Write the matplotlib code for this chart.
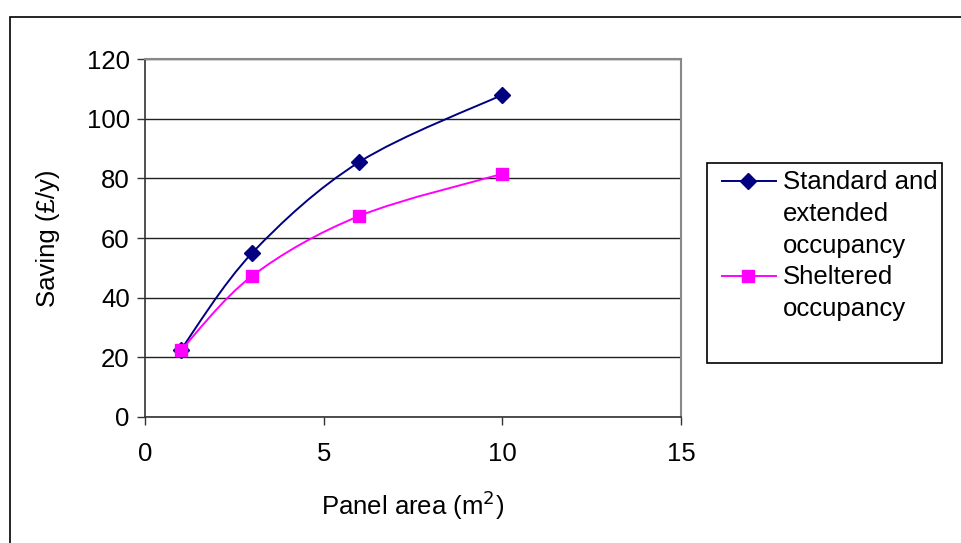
import matplotlib
matplotlib.use("Agg")
import matplotlib.pyplot as plt
from matplotlib.path import Path
from matplotlib.patches import PathPatch, Rectangle
from matplotlib.lines import Line2D

plt.rcParams["font.family"] = ["Liberation Sans", "DejaVu Sans"]

# ── Data ──────────────────────────────────────────────────────────────────────
panel_area = [1, 3, 6, 10]
standard_saving = [22.5, 55, 85.5, 108]
sheltered_saving = [22.3, 47.3, 67.4, 81.5]
series_labels = ["Standard and\nextended\noccupancy", "Sheltered\noccupancy"]
x_ticks = [0, 5, 10, 15]
y_ticks = [0, 20, 40, 60, 80, 100, 120]

NAVY = "#000080"
MAGENTA = "#FF00FF"
FS = 18.5


def smooth_path(xs, ys):
    """Excel-style smoothed line as cubic Bezier segments through the points."""
    pts = list(zip(xs, ys))
    verts = [pts[0]]
    codes = [Path.MOVETO]
    n = len(pts)
    for i in range(n - 1):
        p0 = pts[max(i - 1, 0)]
        p1 = pts[i]
        p2 = pts[i + 1]
        p3 = pts[min(i + 2, n - 1)]
        c1 = (p1[0] + (p2[0] - p0[0]) / 6, p1[1] + (p2[1] - p0[1]) / 6)
        c2 = (p2[0] - (p3[0] - p1[0]) / 6, p2[1] - (p3[1] - p1[1]) / 6)
        verts += [c1, c2, p2]
        codes += [Path.CURVE4] * 3
    return Path(verts, codes)


W, H = 962, 543
fig = plt.figure(figsize=(W / 100, H / 100), dpi=100)

# outer chart border (runs off the right/bottom edge)
fig.patches.append(Rectangle((10 / W, -0.05), 1.1, 1 - 17 / H + 0.05,
                             transform=fig.transFigure, fill=False,
                             edgecolor="black", linewidth=1.2))

ax = fig.add_axes([145 / W, 1 - 417 / H, (681 - 145) / W, (417 - 59) / H])
ax.set_xlim(0, 15)
ax.set_ylim(0, 120)

styles = [(standard_saving, NAVY, "D", 8.5), (sheltered_saving, MAGENTA, "s", 8.5)]
for ys, col, mk, ms in styles:
    ax.add_patch(PathPatch(smooth_path(panel_area, ys), facecolor="none",
                           edgecolor=col, linewidth=1.4, zorder=3))
    ax.plot(panel_area, ys, linestyle="none", marker=mk, markersize=ms,
            color=col, zorder=4)

ax.set_xticks(x_ticks)
ax.set_yticks(y_ticks)
ax.tick_params(axis="both", direction="out", length=6, width=1,
               labelsize=FS, color="#333333")
ax.tick_params(axis="x", pad=12)
ax.tick_params(axis="y", pad=5)
ax.grid(axis="y", color="#222222", linewidth=1)
ax.set_axisbelow(True)
for side in ["left", "bottom"]:
    ax.spines[side].set_color("#333333")
    ax.spines[side].set_linewidth(1.2)
for side in ["top", "right"]:
    ax.spines[side].set_color("#888888")
    ax.spines[side].set_linewidth(1.5)

ax.set_xlabel("Panel area (m$^2$)", fontsize=FS, labelpad=16)
ax.set_ylabel("Saving (£/y)", fontsize=FS, labelpad=19)

# legend box, drawn by hand to get Excel's layout
fig.patches.append(Rectangle((707 / W, 1 - 363 / H), (942 - 707) / W, (363 - 163) / H,
                             transform=fig.transFigure, fill=False,
                             edgecolor="black", linewidth=1.2))
legend_rows = [181, 276]
for (ys, col, mk, ms), label, yp in zip(styles, series_labels, legend_rows):
    yf = 1 - yp / H
    fig.add_artist(Line2D([722 / W, 776 / W], [yf, yf], color=col, linewidth=1.4,
                          transform=fig.transFigure))
    fig.add_artist(Line2D([748 / W], [yf], color=col, marker=mk, markersize=ms,
                          linestyle="none", transform=fig.transFigure))
    fig.text(783 / W, 1 - (yp - 11) / H, label, fontsize=FS, va="top",
             ha="left", linespacing=1.42)

fig.savefig("out.png", dpi=100)
